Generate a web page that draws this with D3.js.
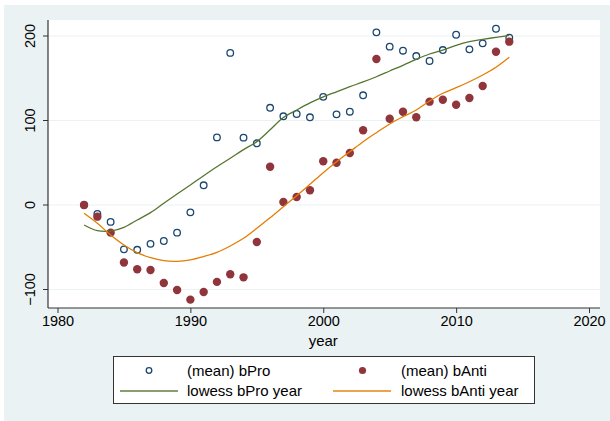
<!DOCTYPE html>
<html>
<head>
<meta charset="utf-8">
<script src="https://cdn.jsdelivr.net/npm/d3@7"></script>
<style>
  body { margin: 0; background: #ffffff; }
  svg { display: block; font-family: "Liberation Sans", Arial, sans-serif; }
</style>
</head>
<body>
<div id="chart_div"></div>
<script>
// values
var years = [1982, 1983, 1984, 1985, 1986, 1987, 1988, 1989, 1990, 1991, 1992,
             1993, 1994, 1995, 1996, 1997, 1998, 1999, 2000, 2001, 2002, 2003,
             2004, 2005, 2006, 2007, 2008, 2009, 2010, 2011, 2012, 2013, 2014];
var bPro = [0, -10.6, -20, -52.5, -53, -46, -42.6, -32.7, -8.7, 23.3, 80,
            180, 79.7, 73, 115, 105, 107.7, 103.8, 128, 107.3, 110.4, 129.8,
            204.3, 187.4, 182.6, 176.3, 170.4, 183.4, 201.5, 184.2, 191.3, 208.6, 198];
var bAnti = [0, -13.8, -32.7, -68, -76, -77, -92.3, -100.6, -112, -103, -91,
             -82, -85.6, -43.8, 45.3, 3.5, 9.5, 17.4, 51.7, 50, 61.5, 88.4,
             172.8, 102.1, 110.4, 103.8, 122.3, 124.6, 118.7, 126.6, 140.8, 181.4, 193.3];
var lowessPro = [-23.7, -30.4, -30.8, -26.4, -17.7, -9, 2, 13, 23.7, 34.7, 45.3,
                 55.3, 65.5, 75, 89, 103.5, 112.4, 120.8, 128, 134, 140, 145.6,
                 151.8, 158.6, 165.3, 172.4, 178.7, 183.4, 189, 193.3, 196, 198.4, 200.8];
var lowessAnti = [-9.8, -21.7, -35.5, -47.3, -56.4, -62.4, -65.9, -66.6, -65, -61, -56,
                  -48.5, -39.4, -27.6, -15, -2, 11, 24.5, 38.2, 51.2, 63, 74.9,
                  85.6, 95.9, 104.5, 112.4, 123, 132.2, 138.8, 145.9, 153.8, 163, 174.8];
var xTicks = [1980, 1990, 2000, 2010, 2020];
var yTicks = [-100, 0, 100, 200];
var legendLabels = ["(mean) bPro", "(mean) bAnti", "lowess bPro year", "lowess bAnti year"];

var navy = "#1a476f", maroon = "#90353b", green = "#55752f", orange = "#e37e00";
var width = 610, height = 421;
var plot = {left: 48, right: 600, top: 20, bottom: 308};

var svg = d3.select("#chart_div").append("svg")
    .attr("width", width)
    .attr("height", height);

// graph region
svg.append("rect")
    .attr("x", 4).attr("y", 5)
    .attr("width", width - 4).attr("height", height - 5)
    .attr("fill", "#eaf2f3");
svg.append("rect")
    .attr("x", plot.left).attr("y", plot.top)
    .attr("width", plot.right - plot.left).attr("height", plot.bottom - plot.top)
    .attr("fill", "#ffffff");

var x = d3.scaleLinear().domain([1980, 2020]).range([57.5, 589]);
var y = d3.scaleLinear().domain([0, 200]).range([205, 36]);

// grid
svg.append("g")
  .selectAll("line")
  .data(yTicks)
  .enter()
  .append("line")
    .attr("x1", plot.left).attr("x2", plot.right)
    .attr("y1", function(d) { return y(d); })
    .attr("y2", function(d) { return y(d); })
    .attr("stroke", "#eaf2f3")
    .attr("stroke-width", 1.2);

// axes
var xAxis = svg.append("g")
    .attr("transform", "translate(0," + plot.bottom + ")")
    .call(d3.axisBottom(x).tickValues(xTicks).tickFormat(d3.format("d")).tickSize(5).tickPadding(3));
var yAxis = svg.append("g")
    .attr("transform", "translate(" + plot.left + ",0)")
    .call(d3.axisLeft(y).tickValues(yTicks).tickSize(5).tickPadding(5));
[xAxis, yAxis].forEach(function(a) {
    a.select(".domain").remove();
    a.selectAll("line").attr("stroke", "#333333");
    a.selectAll("text").attr("fill", "#000000").style("font-size", "14.5px");
});
yAxis.selectAll("text")
    .attr("text-anchor", "middle")
    .attr("transform", function(d) { return "translate(-18," + y(d) + ") rotate(-90)"; })
    .attr("x", 0).attr("y", 0).attr("dy", "0.35em");
yAxis.selectAll(".tick").attr("transform", null);
yAxis.selectAll(".tick line")
    .attr("y1", function(d) { return y(d); })
    .attr("y2", function(d) { return y(d); });
svg.append("line")
    .attr("x1", plot.left).attr("x2", plot.right)
    .attr("y1", plot.bottom).attr("y2", plot.bottom)
    .attr("stroke", "#333333").attr("stroke-width", 1.2);
svg.append("line")
    .attr("x1", plot.left).attr("x2", plot.left)
    .attr("y1", plot.top).attr("y2", plot.bottom)
    .attr("stroke", "#333333").attr("stroke-width", 1.2);

svg.append("text")
    .attr("x", x(2000)).attr("y", 346)
    .attr("text-anchor", "middle")
    .style("font-size", "15px")
    .text("year");

// markers
svg.append("g")
  .selectAll("circle")
  .data(years)
  .enter()
  .append("circle")
    .attr("cx", function(d) { return x(d); })
    .attr("cy", function(d, i) { return y(bPro[i]); })
    .attr("r", 3.3)
    .attr("fill", "none")
    .attr("stroke", navy)
    .attr("stroke-width", 1.3);
svg.append("g")
  .selectAll("circle")
  .data(years)
  .enter()
  .append("circle")
    .attr("cx", function(d) { return x(d); })
    .attr("cy", function(d, i) { return y(bAnti[i]); })
    .attr("r", 4.2)
    .attr("fill", maroon);

// lowess lines
var line = d3.line()
    .x(function(d) { return x(d[0]); })
    .y(function(d) { return y(d[1]); })
    .curve(d3.curveCatmullRom);
svg.append("path")
    .attr("d", line(years.map(function(d, i) { return [d, lowessPro[i]]; })))
    .attr("fill", "none").attr("stroke", green).attr("stroke-width", 1.3);
svg.append("path")
    .attr("d", line(years.map(function(d, i) { return [d, lowessAnti[i]]; })))
    .attr("fill", "none").attr("stroke", orange).attr("stroke-width", 1.3);

// legend
var legend = svg.append("g");
legend.append("rect")
    .attr("x", 113.5).attr("y", 356.5)
    .attr("width", 421).attr("height", 47)
    .attr("fill", "#ffffff").attr("stroke", "#333333").attr("stroke-width", 1);
var keys = [
    {label: legendLabels[0], kind: "hollow", cx: 149, lx: 187, cy: 370.5},
    {label: legendLabels[1], kind: "filled", cx: 362.5, lx: 401, cy: 370.5},
    {label: legendLabels[2], kind: "line", color: green, x1: 120, x2: 178, lx: 187, cy: 391},
    {label: legendLabels[3], kind: "line", color: orange, x1: 333, x2: 391, lx: 401, cy: 391}
];
keys.forEach(function(k) {
    if (k.kind == "hollow") {
        legend.append("circle").attr("cx", k.cx).attr("cy", k.cy).attr("r", 2.8)
            .attr("fill", "none").attr("stroke", navy).attr("stroke-width", 1.3);
    } else if (k.kind == "filled") {
        legend.append("circle").attr("cx", k.cx).attr("cy", k.cy).attr("r", 3.6)
            .attr("fill", maroon);
    } else {
        legend.append("line").attr("x1", k.x1).attr("x2", k.x2)
            .attr("y1", k.cy).attr("y2", k.cy)
            .attr("stroke", k.color).attr("stroke-width", 2).attr("stroke-opacity", 0.7);
    }
    legend.append("text")
        .attr("x", k.lx).attr("y", k.cy).attr("dy", "0.35em")
        .style("font-size", "15px")
        .text(k.label);
});
</script>
</body>
</html>
